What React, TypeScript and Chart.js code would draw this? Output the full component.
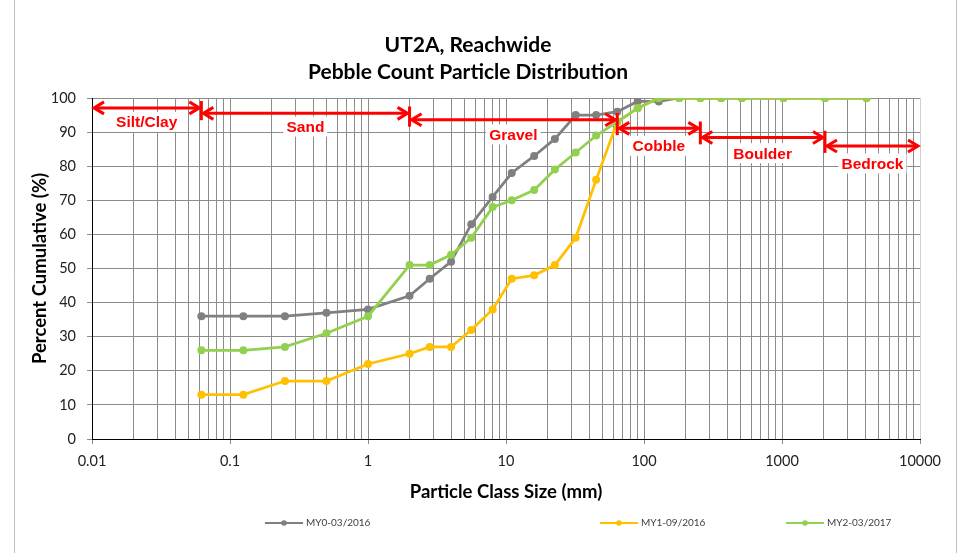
import React, { useEffect, useRef } from 'react';
import { Chart, registerables } from 'chart.js';

Chart.register(...registerables);

// ---- data ----
const sizes = [0.062, 0.125, 0.25, 0.5, 1, 2, 2.8, 4, 5.6, 8, 11, 16, 22.6, 32, 45, 64, 90, 128, 180, 256, 362, 512, 1024, 2048, 4096];
const my0 = [36, 36, 36, 37, 38, 42, 47, 52, 63, 71, 78, 83, 88, 95, 95, 96, 99, 99, 100, 100, 100, 100, 100, 100, 100];
const my1 = [13, 13, 17, 17, 22, 25, 27, 27, 32, 38, 47, 48, 51, 59, 76, 93, 97, 100, 100, 100, 100, 100, 100, 100, 100];
const my2 = [26, 26, 27, 31, 36, 51, 51, 54, 59, 68, 70, 73, 79, 84, 89, 93, 97, 100, 100, 100, 100, 100, 100, 100, 100];
const seriesNames = ['MY0-03/2016', 'MY1-09/2016', 'MY2-03/2017'];
const seriesColors = ['#808080', '#FFC000', '#92D050'];
const titleLines = ['UT2A, Reachwide', 'Pebble Count Particle Distribution'];
const xTitle = 'Particle Class Size (mm)';
const yTitle = 'Percent Cumulative (%)';
const xDecades = [0.01, 0.1, 1, 10, 100, 1000, 10000];
const yMin = 0;
const yMax = 100;
const yStep = 10;

// particle class zones (x in mm, y in percent)
const zoneNames = ['Silt/Clay', 'Sand', 'Gravel', 'Cobble', 'Boulder', 'Bedrock'];
const zoneStart = [0.01, 0.062, 2, 64, 256, 2048];
const zoneEnd = [0.062, 2, 64, 256, 2048, 10000];
const zoneArrowY = [97.1, 95.5, 93.6, 91.1, 88.4, 85.9];
const zoneLabelY = [93, 91.6, 89.3, 86, 83.8, 80.8];

const FONT = 'Lato, "Open Sans", sans-serif';

const zonePlugin = {
  id: 'zones',
  afterDatasetsDraw(chart: any) {
    const ctx = chart.ctx;
    const xs = chart.scales.x;
    const ys = chart.scales.y;
    const red = '#FF0000';
    ctx.save();
    ctx.strokeStyle = red;
    ctx.fillStyle = red;
    ctx.lineWidth = 3;
    ctx.lineJoin = 'miter';
    ctx.lineCap = 'butt';
    const head = (tx: number, y: number, dir: number) => {
      ctx.beginPath();
      ctx.moveTo(tx - dir * 10, y - 6);
      ctx.lineTo(tx, y);
      ctx.lineTo(tx - dir * 10, y + 6);
      ctx.stroke();
    };
    for (let i = 0; i < zoneNames.length; i++) {
      const x0 = xs.getPixelForValue(zoneStart[i]) + 2;
      const x1 = xs.getPixelForValue(zoneEnd[i]) - 2;
      const y = ys.getPixelForValue(zoneArrowY[i]);
      ctx.beginPath();
      ctx.moveTo(x0 + 1, y);
      ctx.lineTo(x1 - 1, y);
      ctx.stroke();
      head(x0, y, -1);
      head(x1, y, 1);
      if (i < zoneNames.length - 1) {
        const bx = xs.getPixelForValue(zoneEnd[i]);
        ctx.beginPath();
        ctx.moveTo(bx, ys.getPixelForValue(zoneArrowY[i] + 2));
        ctx.lineTo(bx, ys.getPixelForValue(zoneArrowY[i + 1] - 2));
        ctx.stroke();
      }
    }
    ctx.font = 'bold 15.5px "Liberation Sans", Arial, sans-serif';
    ctx.textAlign = 'center';
    ctx.textBaseline = 'middle';
    for (let i = 0; i < zoneNames.length; i++) {
      const cx = xs.getPixelForValue(Math.sqrt(zoneStart[i] * zoneEnd[i]));
      const cy = ys.getPixelForValue(zoneLabelY[i]);
      const w = ctx.measureText(zoneNames[i]).width;
      ctx.fillStyle = '#FFFFFF';
      ctx.fillRect(cx - w / 2 - 3, cy - 10, w + 6, 20);
      ctx.fillStyle = red;
      ctx.fillText(zoneNames[i], cx, cy + 1);
    }
    ctx.restore();
  },
};

const framePlugin = {
  id: 'frame',
  afterDraw(chart: any) {
    const ctx = chart.ctx;
    ctx.save();
    ctx.strokeStyle = '#BFBFBF';
    ctx.lineWidth = 1;
    ctx.beginPath();
    ctx.moveTo(14.5, 0);
    ctx.lineTo(14.5, chart.height);
    ctx.moveTo(956.5, 0);
    ctx.lineTo(956.5, chart.height);
    ctx.stroke();

    // legend
    const legendX = [265, 600, 786];
    const ly = 523;
    ctx.font = '10px ' + FONT;
    ctx.textBaseline = 'middle';
    ctx.textAlign = 'left';
    chart.data.datasets.forEach((ds: any, i: number) => {
      const x = legendX[i];
      ctx.strokeStyle = ds.borderColor;
      ctx.lineWidth = 2;
      ctx.beginPath();
      ctx.moveTo(x, ly);
      ctx.lineTo(x + 38, ly);
      ctx.stroke();
      ctx.fillStyle = ds.borderColor;
      ctx.beginPath();
      ctx.arc(x + 19, ly, 2.8, 0, Math.PI * 2);
      ctx.fill();
      ctx.fillStyle = '#404040';
      ctx.fillText(ds.label, x + 41, ly);
    });
    ctx.restore();
  },
};

export default function App() {
  const ref = useRef<HTMLCanvasElement | null>(null);
  useEffect(() => {
    if (!ref.current) return;
    const seriesData = [my0, my1, my2];
    const yTicks: number[] = [];
    for (let v = yMin; v <= yMax; v += yStep) yTicks.push(v);
    const chart = new Chart(ref.current, {
      type: 'line',
      data: {
        datasets: seriesData.map((arr, i) => ({
          label: seriesNames[i],
          data: sizes.map((s, j) => ({ x: s, y: arr[j] })),
          borderColor: seriesColors[i],
          backgroundColor: seriesColors[i],
          borderWidth: 2.75,
          pointRadius: 4,
          pointBorderWidth: 0,
          pointBackgroundColor: seriesColors[i],
          tension: 0,
          fill: false,
          order: seriesData.length - i,
        })),
      },
      options: {
        responsive: false,
        animation: false,
        devicePixelRatio: 1,
        layout: { padding: { left: 16, right: 48, top: 31.5, bottom: 46 } },
        plugins: {
          legend: { display: false },
          tooltip: { enabled: false },
          title: {
            display: true,
            text: titleLines,
            color: '#000',
            font: { family: FONT, size: 21, weight: 'bold', lineHeight: 27 / 21 },
            padding: { top: 0, bottom: 12.5 },
          },
        },
        scales: {
          x: {
            type: 'logarithmic',
            min: xDecades[0],
            max: xDecades[xDecades.length - 1],
            afterBuildTicks: (scale: any) => {
              const t: any[] = [];
              for (let d = 0; d < xDecades.length - 1; d++) {
                for (let k = 1; k <= 9; k++) {
                  const v = k === 1 ? xDecades[d] : k * xDecades[d];
                  t.push({ value: v, major: k === 1 });
                }
              }
              t.push({ value: xDecades[xDecades.length - 1], major: true });
              scale.ticks = t;
            },
            afterFit: (scale: any) => {
              scale.height = 68;
            },
            ticks: {
              autoSkip: false,
              maxRotation: 0,
              minRotation: 0,
              padding: 9,
              color: '#222',
              font: { family: FONT, size: 14.5 },
              callback: (value: any, index: number, ticks: any[]) =>
                ticks[index] && ticks[index].major ? String(ticks[index].value) : '',
            },
            grid: {
              color: (c: any) => (c.tick && c.tick.value === 10000 ? '#D0D0D0' : '#8C8C8C'),
              lineWidth: 1,
              tickLength: 5,
              tickColor: (c: any) => (c.tick && c.tick.major ? '#8C8C8C' : 'rgba(0,0,0,0)'),
            },
            border: { color: '#000', width: 1 },
            title: {
              display: true,
              text: xTitle,
              color: '#000',
              font: { family: FONT, size: 18.5, weight: 'bold', lineHeight: 1.2 },
              padding: { top: 0, bottom: 4 },
            },
          },
          y: {
            type: 'linear',
            min: yMin,
            max: yMax,
            afterBuildTicks: (scale: any) => {
              scale.ticks = yTicks.map((v) => ({ value: v }));
            },
            afterFit: (scale: any) => {
              scale.width = 76;
            },
            ticks: {
              padding: 11,
              color: '#222',
              font: { family: FONT, size: 14.5 },
            },
            grid: {
              color: '#8C8C8C',
              lineWidth: 1,
              tickLength: 5,
              tickColor: '#8C8C8C',
            },
            border: { color: '#000', width: 1 },
            title: {
              display: true,
              text: yTitle,
              color: '#000',
              font: { family: FONT, size: 18.5, weight: 'bold', lineHeight: 1.2 },
              padding: { top: 13, bottom: 0 },
            },
          },
        },
      },
      plugins: [zonePlugin, framePlugin],
    } as any);
    return () => chart.destroy();
  }, []);
  return (
    <div style={{ position: 'fixed', left: 0, top: 0, width: 968, height: 553, background: '#fff' }}>
      <canvas ref={ref} width={968} height={553} style={{ display: 'block', width: 968, height: 553 }} />
    </div>
  );
}
